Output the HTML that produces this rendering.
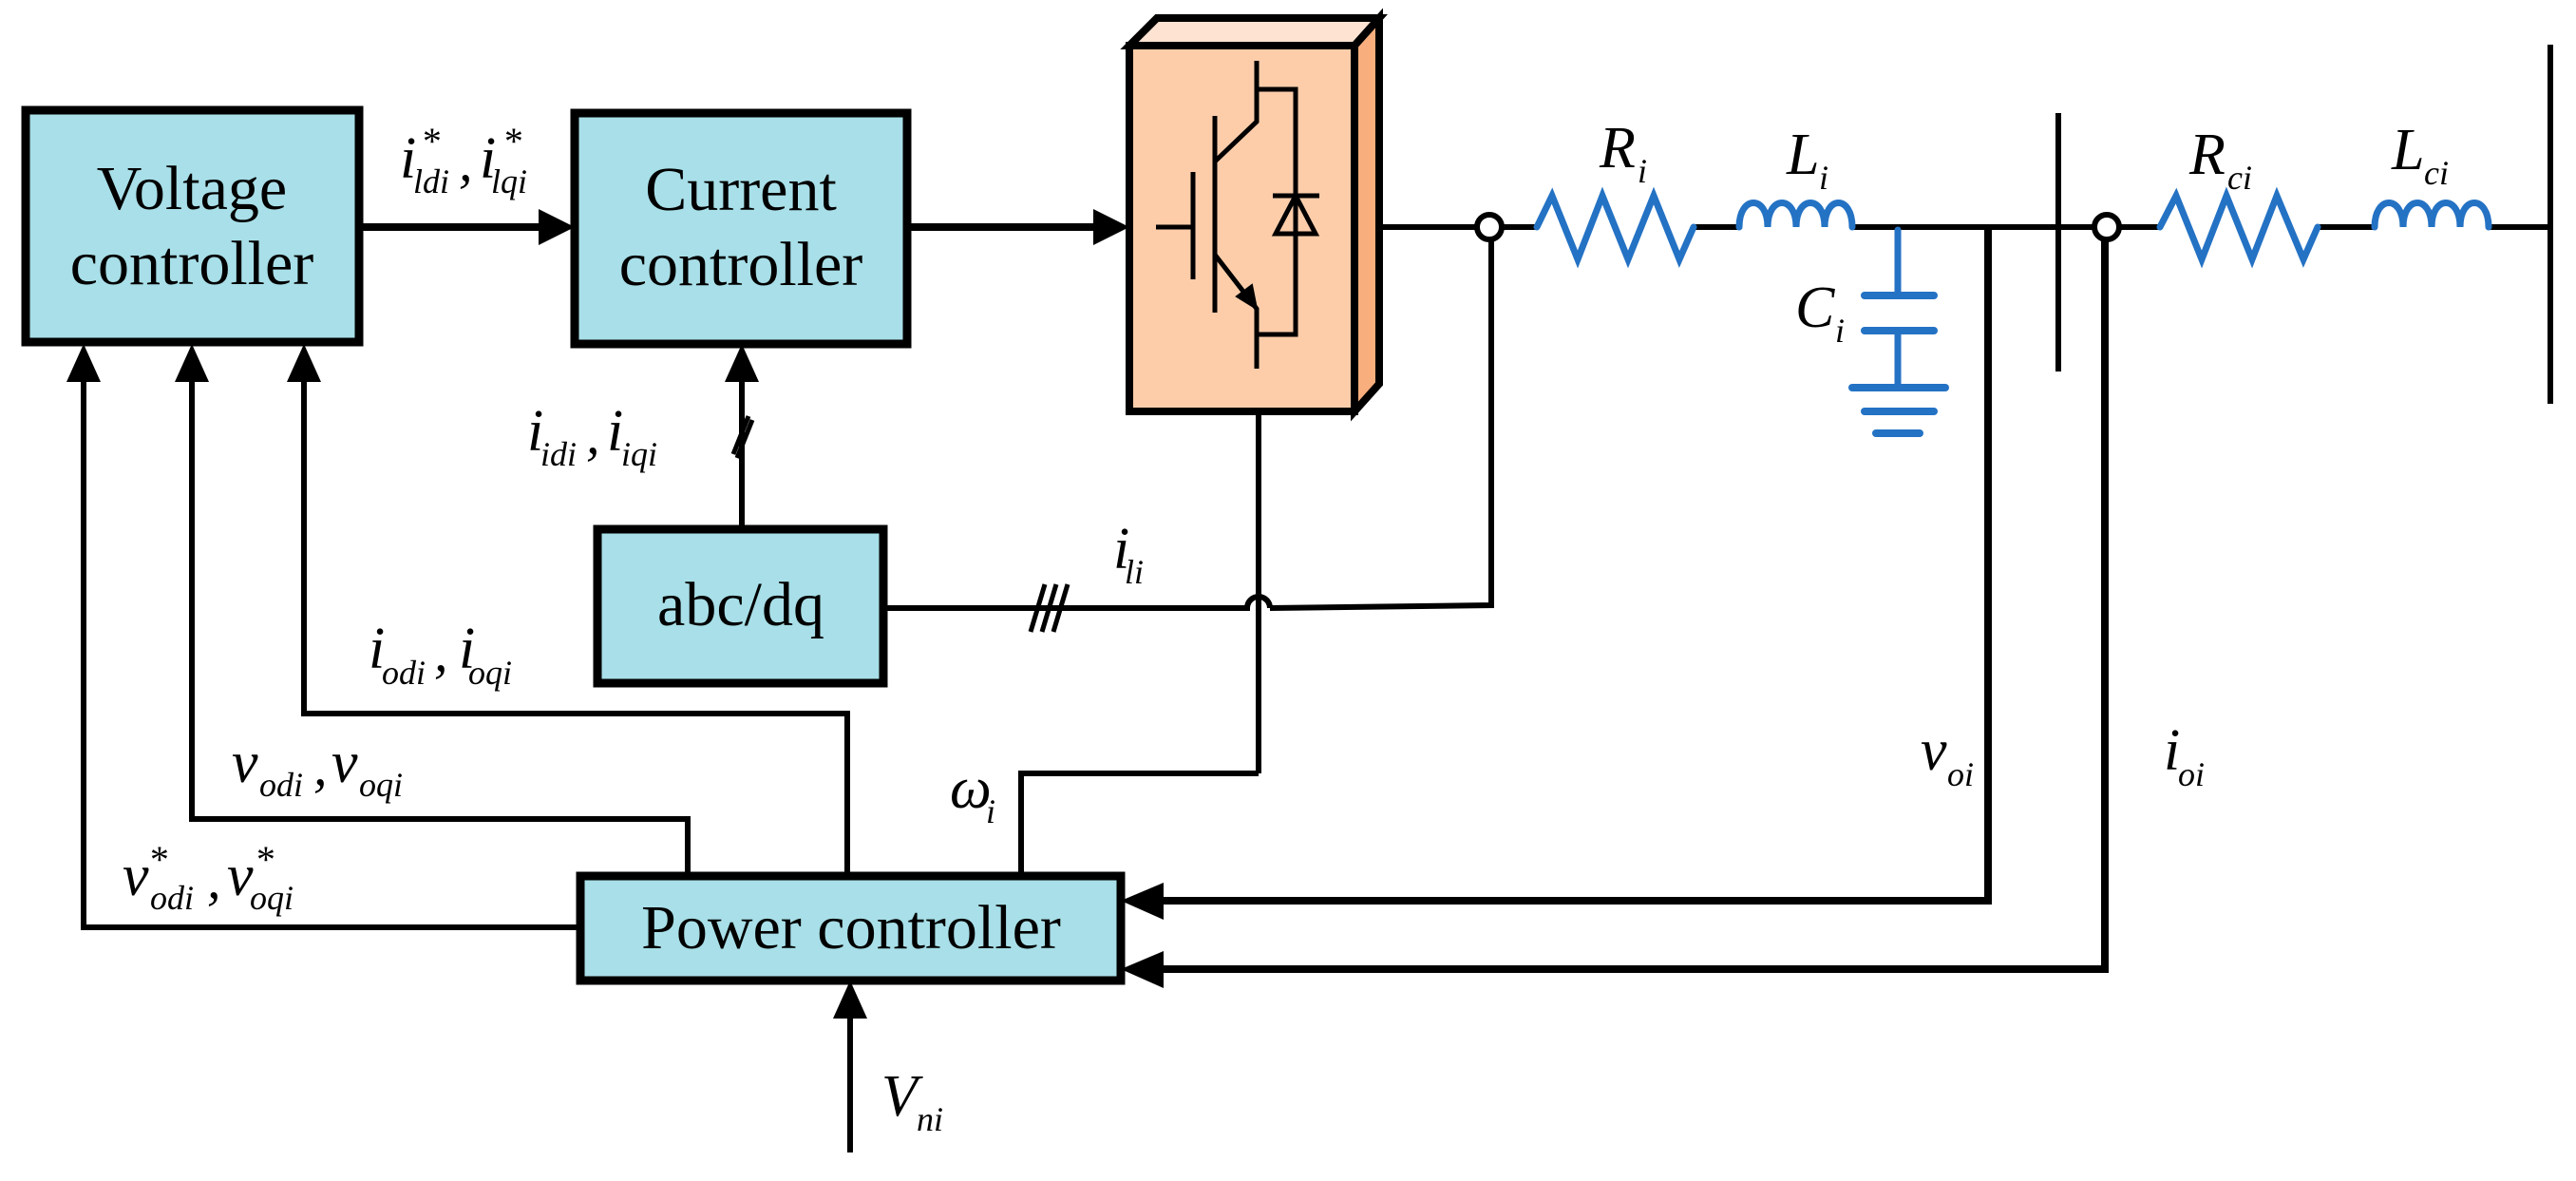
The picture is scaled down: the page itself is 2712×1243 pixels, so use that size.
<!DOCTYPE html>
<html><head><meta charset="utf-8"><style>
html,body{margin:0;padding:0;background:#fff;}
svg{display:block;}
text{font-family:"Liberation Serif",serif;fill:#000;}
.it{font-style:italic;}
</style></head><body>
<svg width="2712" height="1243" viewBox="0 0 2712 1243" xmlns="http://www.w3.org/2000/svg">
<defs>
<marker id="a" markerWidth="10" markerHeight="10" refX="0" refY="0" orient="auto" markerUnits="userSpaceOnUse"></marker>
</defs>
<g stroke="#000" stroke-width="6" fill="none" stroke-linejoin="miter">
<!-- boxes -->
<rect x="27" y="116" width="351" height="244" fill="#A8DFE8" stroke-width="9"/>
<rect x="605" y="119" width="350" height="243" fill="#A8DFE8" stroke-width="9"/>
<rect x="629" y="557" width="301" height="162" fill="#A8DFE8" stroke-width="9"/>
<rect x="611" y="922" width="569" height="110" fill="#A8DFE8" stroke-width="9"/>
<!-- converter -->
<polygon points="1189,48 1218,19 1452,19 1426,48" fill="#FEE3D2" stroke-width="8"/>
<polygon points="1426,48 1452,19 1452,404 1426,433" fill="#F8AE7D" stroke-width="8"/>
<rect x="1189" y="48" width="237" height="385" fill="#FDCDAA" stroke-width="8"/>
<!-- IGBT -->
<line x1="1217" y1="239" x2="1256" y2="239" stroke-width="5"/>
<line x1="1256" y1="181" x2="1256" y2="294" stroke-width="5"/>
<line x1="1279" y1="122" x2="1279" y2="329" stroke-width="5"/>
<polyline points="1323,64 1323,128 1279,170" stroke-width="5"/>
<polyline points="1279,268 1323,325 1323,388" stroke-width="5"/>
<polygon points="1323,325 1302,312 1318,300" fill="#000" stroke-width="2"/>
<polyline points="1323,94 1364,94 1364,352 1323,352" stroke-width="5"/>
<line x1="1340" y1="206" x2="1389" y2="206" stroke-width="5"/>
<polygon points="1364,206 1343,246 1385,246" fill="none" stroke-width="5"/>
<!-- main power line -->
<line x1="1452" y1="239" x2="1554" y2="239"/>
<line x1="1582" y1="239" x2="1618" y2="239"/>
<line x1="1783" y1="239" x2="1831" y2="239"/>
<line x1="1950" y1="239" x2="2205" y2="239"/>
<line x1="2232" y1="239" x2="2274" y2="239"/>
<line x1="2440" y1="239" x2="2500" y2="239"/>
<line x1="2620" y1="239" x2="2685" y2="239"/>
<circle cx="1568" cy="239" r="13" fill="#fff" stroke-width="6"/>
<circle cx="2218" cy="239" r="13" fill="#fff" stroke-width="6"/>
<!-- buses -->
<line x1="2167" y1="119" x2="2167" y2="391"/>
<line x1="2685" y1="47" x2="2685" y2="425"/>
<!-- abc/dq line with hop -->
<polyline points="1570,252 1570,637 1337,640"/>
<path d="M930,640 L1313,640 A12,12 0 0 1 1337,640"/>
<line x1="1325" y1="433" x2="1325" y2="814"/>
<polyline points="1325,814 1075,814 1075,922"/>
<!-- triple slash -->
<line x1="1085" y1="665" x2="1100" y2="615" stroke-width="5"/>
<line x1="1097" y1="665" x2="1112" y2="615" stroke-width="5"/>
<line x1="1109" y1="665" x2="1124" y2="615" stroke-width="5"/>
<!-- abc/dq to current controller -->
<line x1="781" y1="557" x2="781" y2="398"/>
<line x1="772" y1="478" x2="788" y2="438" stroke-width="5"/>
<line x1="776" y1="482" x2="792" y2="442" stroke-width="5"/>
<!-- feedback lines -->
<polyline points="320,400 320,751 892,751 892,922"/>
<polyline points="202,400 202,862 724,862 724,922"/>
<polyline points="88,400 88,976 611,976"/>
<line x1="895" y1="1213" x2="895" y2="1070"/>
<!-- vo, io lines -->
<polyline points="2093,239 2093,948 1222,948" stroke-width="8"/>
<polyline points="2216,252 2216,1020 1222,1020" stroke-width="8"/>
<!-- horizontal arrows -->
<line x1="378" y1="239" x2="570" y2="239" stroke-width="8"/>
<line x1="955" y1="239" x2="1152" y2="239" stroke-width="8"/>
</g>
<g fill="#000">
<polygon points="605,239 567,220 567,258"/>
<polygon points="1189,239 1151,220 1151,258"/>
<polygon points="88,362 70,402 106,402"/>
<polygon points="202,362 184,402 220,402"/>
<polygon points="320,362 302,402 338,402"/>
<polygon points="781,362 763,402 799,402"/>
<polygon points="895,1032 877,1072 913,1072"/>
<polygon points="1180,948 1225,929 1225,968"/>
<polygon points="1180,1020 1225,1001 1225,1040"/>
</g>
<!-- blue components -->
<g stroke="#2472C4" stroke-width="7" fill="none" stroke-linecap="round" stroke-linejoin="miter">
<polyline points="1618,239 1634,206 1661,273 1687,206 1714,273 1741,206 1768,273 1783,239"/>
<polyline points="2274,239 2291,206 2318,273 2344,206 2371,273 2397,206 2425,273 2440,239"/>
<path d="M1831,239 C1831,205 1861,205 1861,239 C1861,205 1891,205 1891,239 C1891,205 1921,205 1921,239 C1921,205 1950,205 1950,239"/>
<path d="M2500,239 C2500,205 2530,205 2530,239 C2530,205 2560,205 2560,239 C2560,205 2590,205 2590,239 C2590,205 2620,205 2620,239"/>
<line x1="1998" y1="242" x2="1998" y2="311"/>
<line x1="1998" y1="348" x2="1998" y2="408"/>
<line x1="1963" y1="311" x2="2036" y2="311" stroke-width="8"/>
<line x1="1963" y1="348" x2="2036" y2="348" stroke-width="8"/>
<line x1="1950" y1="408" x2="2048" y2="408" stroke-width="8"/>
<line x1="1963" y1="433" x2="2036" y2="433" stroke-width="8"/>
<line x1="1975" y1="456" x2="2021" y2="456" stroke-width="8"/>
</g>
<!-- box text -->
<g font-size="66" text-anchor="middle">
<text x="202" y="220">Voltage</text>
<text x="202" y="299">controller</text>
<text x="780" y="221">Current</text>
<text x="780" y="300">controller</text>
<text x="780" y="658">abc/dq</text>
<text x="896" y="998">Power controller</text>
</g>
<!-- labels -->
<g class="it">
<text x="421" y="187" font-size="62" class="it">i</text><text x="435" y="203" font-size="36" class="it">ldi</text>
<text x="443" y="162" font-size="40">*</text>
<text x="483" y="190" font-size="58">,</text>
<text x="505" y="187" font-size="62" class="it">i</text><text x="517" y="203" font-size="36" class="it">lqi</text>
<text x="529" y="162" font-size="40">*</text>

<text x="555" y="474" font-size="62" class="it">i</text><text x="569" y="490" font-size="36" class="it">idi</text>
<text x="617" y="477" font-size="58">,</text>
<text x="639" y="474" font-size="62" class="it">i</text><text x="654" y="490" font-size="36" class="it">iqi</text>

<text x="388" y="703" font-size="62" class="it">i</text><text x="402" y="720" font-size="36" class="it">odi</text>
<text x="457" y="706" font-size="58">,</text>
<text x="483" y="703" font-size="62" class="it">i</text><text x="493" y="720" font-size="36" class="it">oqi</text>

<text x="1172" y="598" font-size="62" class="it">i</text><text x="1184" y="614" font-size="36" class="it">li</text>

<text x="244" y="823" font-size="62" class="it">v</text><text x="273" y="838" font-size="36" class="it">odi</text>
<text x="330" y="826" font-size="58">,</text>
<text x="349" y="823" font-size="62" class="it">v</text><text x="378" y="838" font-size="36" class="it">oqi</text>

<text x="129" y="942" font-size="62" class="it">v</text><text x="158" y="957" font-size="36" class="it">odi</text>
<text x="156" y="918" font-size="40">*</text>
<text x="218" y="945" font-size="58">,</text>
<text x="239" y="942" font-size="62" class="it">v</text><text x="263" y="957" font-size="36" class="it">oqi</text>
<text x="268" y="918" font-size="40">*</text>

<text x="1000" y="850" font-size="62" class="it">ω</text><text x="1038" y="866" font-size="36" class="it">i</text>
<text x="928" y="1174" font-size="62" class="it">V</text><text x="965" y="1190" font-size="36" class="it">ni</text>

<text x="2022" y="810" font-size="62" class="it">v</text><text x="2050" y="827" font-size="36" class="it">oi</text>
<text x="2278" y="810" font-size="62" class="it">i</text><text x="2293" y="827" font-size="36" class="it">oi</text>

<text x="1684" y="176" font-size="62" class="it">R</text><text x="1724" y="192" font-size="36" class="it">i</text>
<text x="1881" y="183" font-size="62" class="it">L</text><text x="1915" y="199" font-size="36" class="it">i</text>
<text x="1890" y="344" font-size="62" class="it">C</text><text x="1932" y="360" font-size="36" class="it">i</text>
<text x="2305" y="183" font-size="62" class="it">R</text><text x="2345" y="199" font-size="36" class="it">ci</text>
<text x="2518" y="178" font-size="62" class="it">L</text><text x="2552" y="194" font-size="36" class="it">ci</text>
</g>
</svg>
</body></html>
